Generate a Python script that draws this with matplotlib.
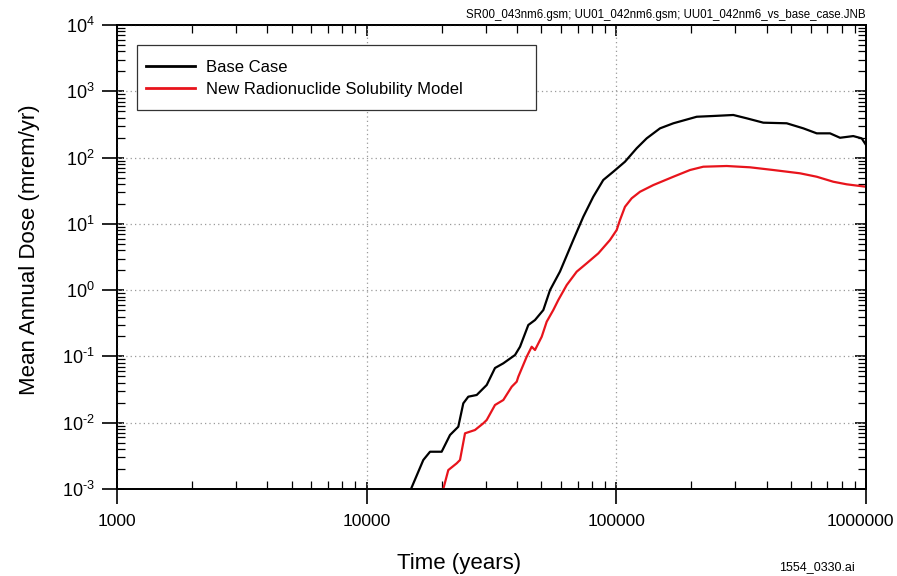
import matplotlib
matplotlib.use("Agg")
import matplotlib.pyplot as plt
from matplotlib.patches import Rectangle
from matplotlib.transforms import ScaledTranslation
from matplotlib.ticker import LogLocator, NullFormatter, FuncFormatter
import numpy as np

plt.rcParams['font.family'] = ['Liberation Sans', 'DejaVu Sans']
plt.rcParams['mathtext.default'] = 'regular'
plt.rcParams['axes.unicode_minus'] = False

# Mean annual dose histories (time in years, dose in mrem/yr)
base_time = [15050, 16860, 17940, 19970, 21570, 23280, 24380, 25530, 27590, 30260,
             32660, 35260, 39280, 41140, 44410, 47230, 51000, 54240, 59480, 67230,
             73740, 80860, 88660, 97230, 108300, 120600, 132300, 149600, 169200, 209900,
             244600, 294100, 332900, 387900, 481300, 561000, 634800, 717700, 787000,
             889200, 961000, 1000000]
base_dose = [0.001, 0.00274, 0.00365, 0.00365, 0.00653, 0.0087, 0.0196, 0.0247, 0.0262, 0.0371,
             0.0669, 0.0787, 0.105, 0.140, 0.298, 0.354, 0.501, 1.0, 1.91, 5.71,
             12.8, 25.7, 45.9, 61.2, 86.6, 138, 195, 276, 329, 413,
             424, 439, 391, 336, 329, 276, 232, 232, 199,
             211, 195, 155]

new_time = [20270, 21230, 22940, 23650, 24770, 27150, 29330, 30260, 32660, 35260,
            38100, 39900, 40490, 43750, 45810, 47230, 50240, 52610, 55910, 58560,
            63290, 69380, 76080, 84710, 94320, 100300, 103400, 108300, 115200, 124400,
            140700, 169200, 197300, 223000, 276700, 343100, 425400, 543900, 634800,
            739600, 836800, 1000000]
new_dose = [0.001, 0.00193, 0.00244, 0.00274, 0.00692, 0.00776, 0.0098, 0.011, 0.0185, 0.022,
            0.0349, 0.0416, 0.0494, 0.099, 0.140, 0.125, 0.198, 0.334, 0.501, 0.71,
            1.195, 1.90, 2.54, 3.59, 5.71, 8.07, 11.4, 18.1, 24.3, 30.5,
            38.5, 51.4, 64.9, 72.8, 74.6, 71.3, 64.9, 57.9, 51.4,
            43.2, 39.5, 36.3]

series_labels = ["Base Case", "New Radionuclide Solubility Model"]
series_colors = ["#000000", "#e8141c"]

x_ticks = [1000, 10000, 100000, 1000000]
x_tick_labels = ["1000", "10000", "100000", "1000000"]


def power_label(v, pos):
    e = int(round(np.log10(v)))
    exp = ("\u2010" + str(-e)) if e < 0 else str(e)
    return r"$\mathdefault{10^{%s}}$" % exp


W, H = 897, 576
fig = plt.figure(figsize=(W / 100, H / 100), dpi=100)
left, right, top, bottom = 117, 866, 25, 489
ax = fig.add_axes([left / W, 1 - bottom / H, (right - left) / W, (bottom - top) / H])

ax.plot(base_time, base_dose, color=series_colors[0], lw=1.6, label=series_labels[0])
ax.plot(new_time, new_dose, color=series_colors[1], lw=1.6, label=series_labels[1])

ax.set_xscale('log')
ax.set_yscale('log')
ax.set_xlim(1e3, 1e6)
ax.set_ylim(1e-3, 1e4)

ax.set_xticks(x_ticks)
ax.set_xticklabels(x_tick_labels)
ax.xaxis.set_minor_locator(LogLocator(base=10, subs=range(2, 10)))
ax.xaxis.set_minor_formatter(NullFormatter())
ax.yaxis.set_major_locator(LogLocator(base=10, numticks=20))
ax.yaxis.set_major_formatter(FuncFormatter(power_label))
ax.yaxis.set_minor_locator(LogLocator(base=10, subs=range(2, 10), numticks=20))
ax.yaxis.set_minor_formatter(NullFormatter())

ax.tick_params(which='major', direction='out', length=11, width=1.2, labelsize=13, color='black')
ax.tick_params(axis='x', which='major', pad=7, labelsize=12.6)
ax.tick_params(axis='y', which='major', pad=5)
ax.tick_params(which='minor', direction='in', length=6, width=0.9)

# keep the last x label inside the canvas
last = ax.get_xticklabels()[-1]
last.set_transform(last.get_transform() + ScaledTranslation(-4 / 72, 0, fig.dpi_scale_trans))

for s in ax.spines.values():
    s.set_linewidth(1.3)

ax.grid(True, which='major', linestyle=(0, (1, 2.5)), color='#9a9a9a', linewidth=0.9)

# inner parts of the major ticks on all four sides, plus mirrored minor ticks
ident = (lambda v: v, lambda v: v)
for loc in ('top', 'bottom'):
    sx = ax.secondary_xaxis(loc, functions=ident)
    sx.set_xticks(x_ticks)
    sx.xaxis.set_minor_locator(LogLocator(base=10, subs=range(2, 10)))
    sx.tick_params(which='major', direction='in', length=5 if loc == 'bottom' else 8, width=1.2,
                   labelbottom=False, labeltop=False)
    sx.tick_params(which='minor', direction='in', length=6 if loc == 'top' else 0, width=0.9)
    sx.xaxis.set_major_formatter(NullFormatter())
    sx.xaxis.set_minor_formatter(NullFormatter())
    sx.spines[loc].set_linewidth(1.3)
for loc in ('left', 'right'):
    sy = ax.secondary_yaxis(loc, functions=ident)
    sy.yaxis.set_major_locator(LogLocator(base=10, numticks=20))
    sy.yaxis.set_minor_locator(LogLocator(base=10, subs=range(2, 10), numticks=20))
    sy.tick_params(which='major', direction='in', length=5 if loc == 'left' else 8, width=1.2,
                   labelleft=False, labelright=False)
    sy.tick_params(which='minor', direction='in', length=6 if loc == 'right' else 0, width=0.9)
    sy.yaxis.set_major_formatter(NullFormatter())
    sy.yaxis.set_minor_formatter(NullFormatter())
    sy.spines[loc].set_linewidth(1.3)

# legend entries, with a separate white box behind them
box = Rectangle((137 / W, 1 - 110 / H), (536 - 137) / W, (110 - 45) / H, transform=fig.transFigure,
                facecolor='white', edgecolor='#333333', linewidth=0.9, zorder=5)
fig.add_artist(box)
leg = ax.legend(loc='upper left', bbox_to_anchor=(137 / W, 1 - 51 / H), bbox_transform=fig.transFigure,
                borderaxespad=0, fontsize=12, frameon=False, handlelength=2.9, handletextpad=0.7,
                labelspacing=0.42, borderpad=0.55)
leg.set_zorder(6)
fig.add_artist(leg)
for line in leg.get_lines():
    line.set_linewidth(2.0)

fig.text(30 / W, 1 - 250 / H, "Mean Annual Dose (mrem/yr)", rotation=90, ha='center', va='center', fontsize=16)
fig.text(459 / W, 1 - 563 / H, "Time (years)", ha='center', va='center', fontsize=16)
fig.text(866 / W, 1 - 15 / H, "SR00_043nm6.gsm; UU01_042nm6.gsm; UU01_042nm6_vs_base_case.JNB",
         ha='right', va='center', fontsize=8.3)
fig.text(855 / W, 1 - 567 / H, "1554_0330.ai", ha='right', va='center', fontsize=9)

fig.savefig("out.png", dpi=100)
